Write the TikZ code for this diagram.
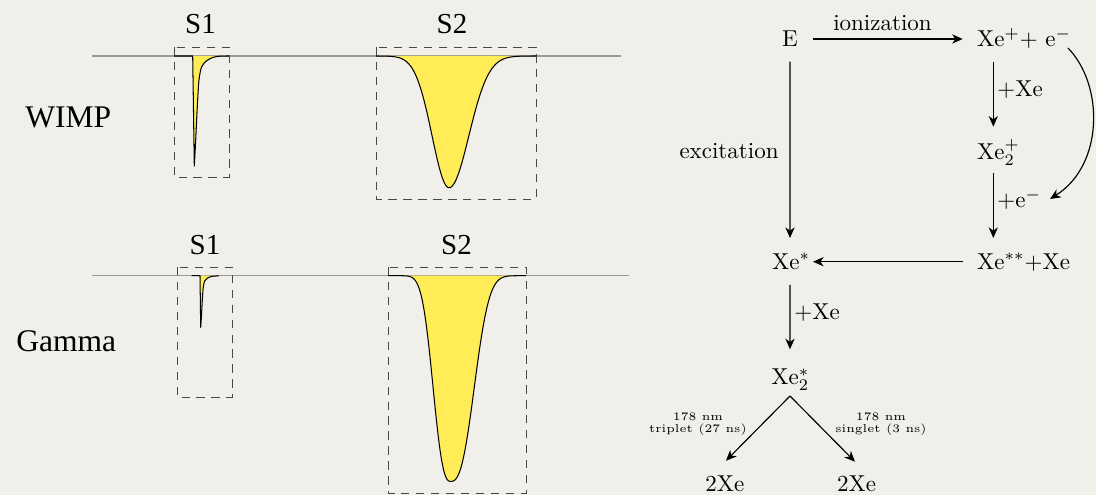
\documentclass[tikz,border=0pt]{standalone}
\usepackage{fontspec}
\newfontfamily\tnr{Liberation Serif}
\usetikzlibrary{arrows.meta}
\definecolor{bg}{RGB}{240,239,233}
\definecolor{pulse}{RGB}{255,236,87}
\begin{document}
\begin{tikzpicture}[x=0.4348pt,y=-0.4348pt,
  baseline line/.style={draw=black!40, line width=0.45pt},
  sbox/.style={draw=black!72, dash pattern=on 3.6pt off 2.9pt, line width=0.42pt},
  trace/.style={line width=0.45pt, line join=round},
  lbl/.style={inner sep=0pt, font=\tnr\fontsize{13.7}{16}\selectfont},
  slbl/.style={inner sep=0pt, font=\tnr\fontsize{12.6}{15}\selectfont},
  tx/.style={inner sep=0pt},
  arr/.style={-{Stealth[length=4.6pt,width=4pt,inset=1.4pt]}, line width=0.5pt},
  sm/.style={inner sep=0pt, align=center, font=\fontsize{5}{5.6}\selectfont}]

\fill[bg] (0,0) rectangle (1096,495);
\useasboundingbox (0,0) rectangle (1096,495);

% ---------- baselines ----------
\draw[baseline line] (92,56) -- (621,56);
\draw[baseline line] (92,275.7) -- (629,275.7);

% ---------- top S1 ----------
\fill[pulse] (192.7,56) -- (194.3,166) -- plot[smooth] coordinates {(194.3,166) (195.7,140) (197.3,106.7) (199,80) (201.7,66.7) (206.7,60.7) (213.3,57.3) (220,56.2) (229,56)} -- cycle;
\draw[trace] (174,56) -- (192.7,56) -- (194.3,166) -- plot[smooth] coordinates {(194.3,166) (195.7,140) (197.3,106.7) (199,80) (201.7,66.7) (206.7,60.7) (213.3,57.3) (220,56.2) (229,56)};

% ---------- top S2 ----------
\fill[pulse] plot[domain=376:536, samples=161] (\x, {56 + 131.7*exp(-min(pow(abs(\x-449.05)/(\x<449.05 ? 24 : 28), 2),20))}) -- cycle;
\draw[trace] plot[domain=376:536, samples=161] (\x, {56 + 131.7*exp(-min(pow(abs(\x-449.05)/(\x<449.05 ? 24 : 28), 2),20))});

% ---------- bottom S1 ----------
\fill[pulse] (200,275.7) -- (200.7,327.3) -- plot[smooth] coordinates {(200.7,327.3) (201.5,315.1) (202.35,299.5) (203.3,287) (204.8,280.9) (207.5,278) (211.2,276.5) (219,275.8)} -- cycle;
\draw[trace] (191.7,275.7) -- (200,275.7) -- (200.7,327.3) -- plot[smooth] coordinates {(200.7,327.3) (201.5,315.1) (202.35,299.5) (203.3,287) (204.8,280.9) (207.5,278) (211.2,276.5) (219,275.8)};

% ---------- bottom S2 ----------
\fill[pulse] plot[domain=388:526, samples=139] (\x, {275.7 + 205.7*exp(-min(exp(2.6*ln(abs(\x-450.7)/(\x<450.7 ? 21.3 : 28.5))),20))}) -- cycle;
\draw[trace] plot[domain=388:526, samples=139] (\x, {275.7 + 205.7*exp(-min(exp(2.6*ln(abs(\x-450.7)/(\x<450.7 ? 21.3 : 28.5))),20))});

% ---------- dashed boxes ----------
\draw[sbox] (174,47) rectangle (229,177);
\draw[sbox] (376,47) rectangle (536,199);
\draw[sbox] (177,267) rectangle (232,397);
\draw[sbox] (388,267) rectangle (526,493);

% ---------- left labels ----------
\node[lbl, anchor=base west] (wimp) at (25,128) {WIMP};
\node[lbl, anchor=base west] (gamma) at (16,352) {Gamma};
\node[slbl, anchor=base] (s1a) at (200.5,33.3) {S1};
\node[slbl, anchor=base] (s2a) at (452,33.3) {S2};
\node[slbl, anchor=base] (s1b) at (205,255) {S1};
\node[slbl, anchor=base] (s2b) at (456.5,255) {S2};

% ---------- right diagram ----------
\node[tx, anchor=base] (E) at (790,46.7) {E};
\node[tx, anchor=base west] (xeion) at (976.7,46.7) {Xe$^{+}$+ e$^{-}$};
\node[tx, anchor=base west] (xe2p) at (976.7,159.3) {Xe$_2^+$};
\node[tx, anchor=base west] (xess) at (976.7,269.3) {Xe$^{**}$+Xe};
\node[tx, anchor=base west] (xes) at (771.7,269.3) {Xe$^{*}$};
\node[tx, anchor=base west] (xe2s) at (771,385) {Xe$_2^*$};
\node[tx, anchor=base west] (xa) at (705,491.7) {2Xe};
\node[tx, anchor=base west] (xb) at (836.7,491.7) {2Xe};

\node[tx, anchor=base] (ion) at (882.5,30.5) {ionization};
\node[tx, anchor=base east] (exc) at (779,158.3) {excitation};
\node[tx, anchor=base west] (l1) at (997,96.5) {+Xe};
\node[tx, anchor=base west] (l2) at (997,208) {+e$^{-}$};
\node[tx, anchor=base west] (l3) at (794,320) {+Xe};
\node[sm] (t1) at (698,424) {178 nm\\triplet (27 ns)};
\node[sm] (t2) at (881,424) {178 nm\\singlet (3 ns)};

\draw[arr] ([shift={(23.3,-7.7)}]E.base) -- ([shift={(-14,-7.7)}]xeion.base west);
\draw[arr] ([shift={(0,15)}]E.base) -- ([shift={(18.3,-31.3)}]xes.base west);
\draw[arr] ([shift={(16.6,15.3)}]xeion.base west) -- ([shift={(16.6,-32.6)}]xe2p.base west);
\draw[arr] ([shift={(16.6,13.7)}]xe2p.base west) -- ([shift={(16.6,-31.3)}]xess.base west);
\draw[arr] ([shift={(-14,-7.6)}]xess.base west) -- ([shift={(41.3,-7.6)}]xes.base west);
\draw[arr] ([shift={(91.3,1.3)}]xeion.base west) .. controls +(36,37) and +(54,-34) .. ([shift={(53,-9)}]l2.base west);
\draw[arr] ([shift={(18.3,15.7)}]xes.base west) -- ([shift={(19,-35.7)}]xe2s.base west);
\draw[arr] ([shift={(19,11)}]xe2s.base west) -- ([shift={(21,-31)}]xa.base west);
\draw[arr] ([shift={(19,11)}]xe2s.base west) -- ([shift={(18.3,-30)}]xb.base west);
\end{tikzpicture}
\end{document}
